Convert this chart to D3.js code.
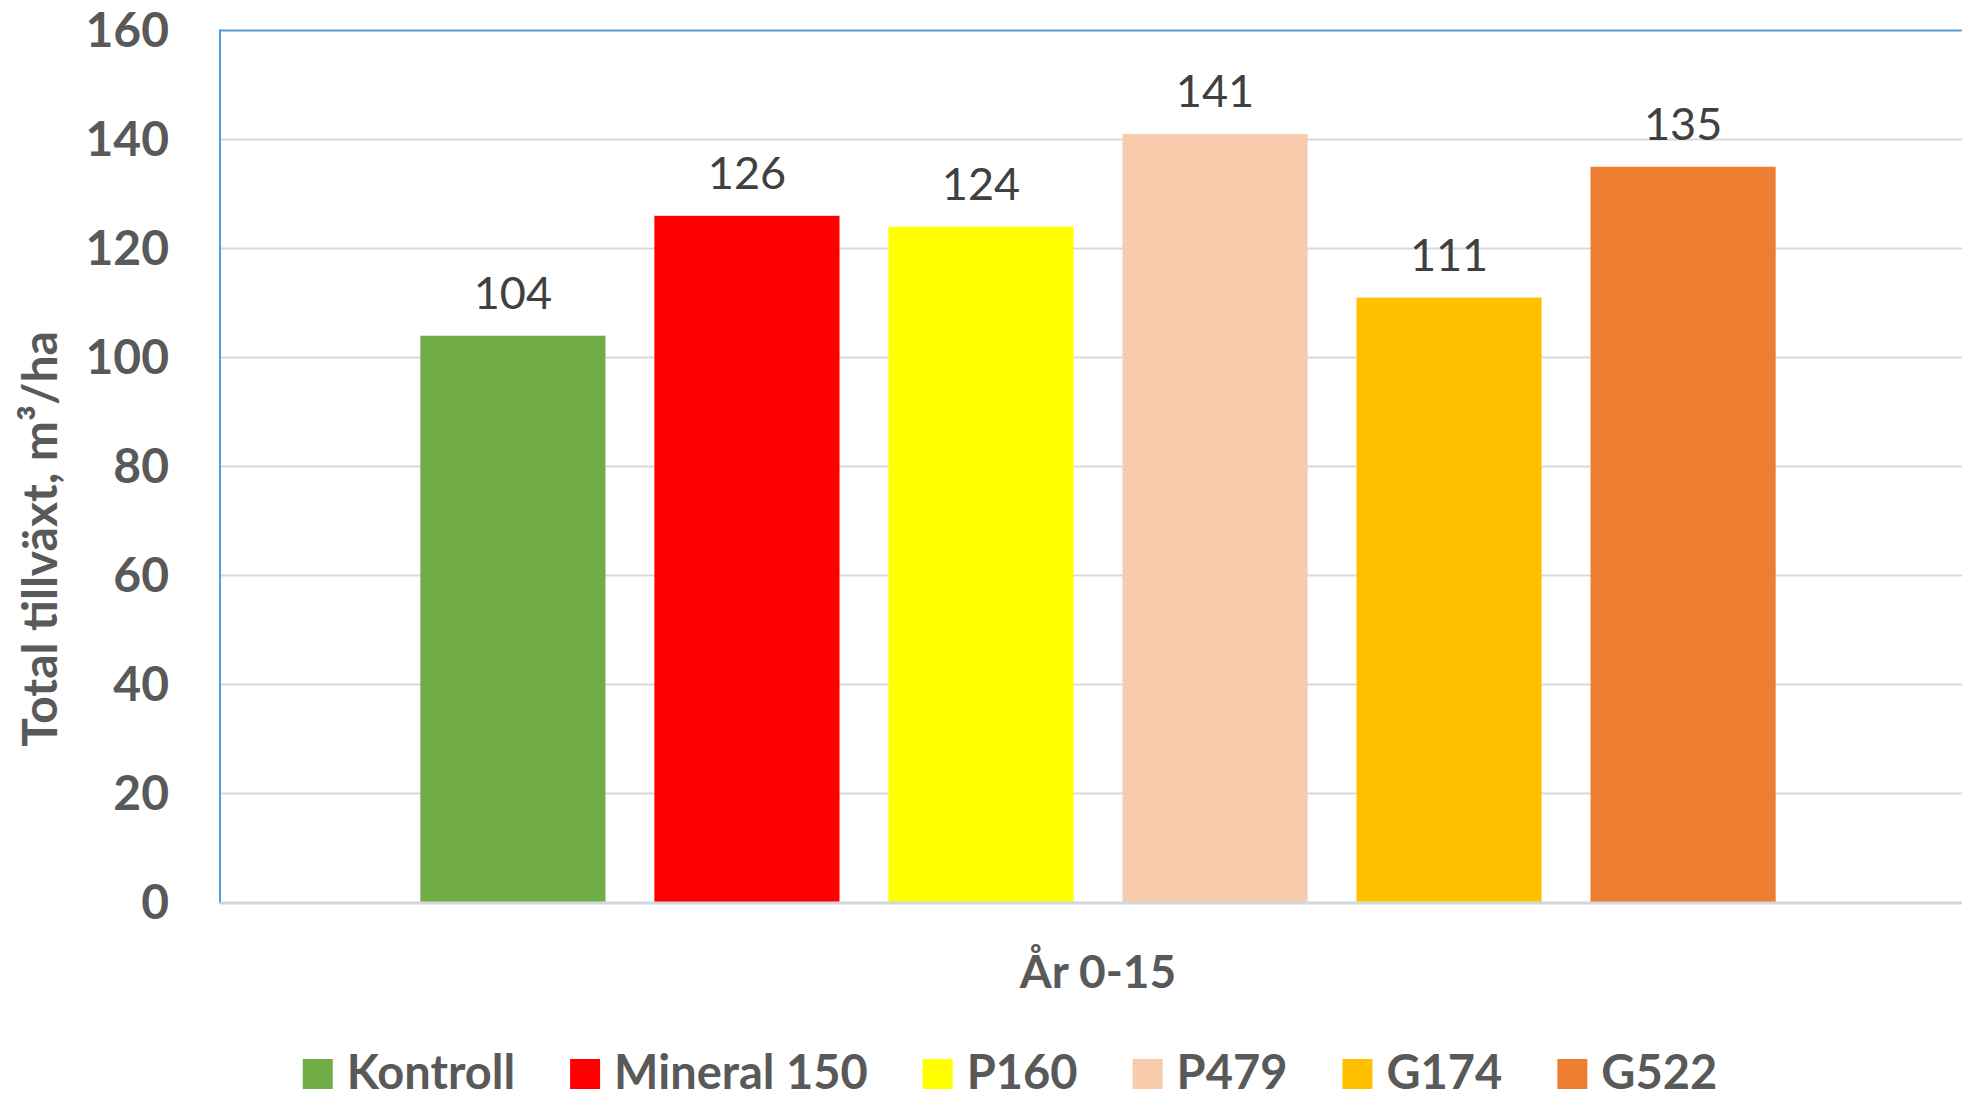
<!DOCTYPE html>
<html>
<head>
<meta charset="utf-8">
<script src="https://cdn.jsdelivr.net/npm/d3@7"></script>
<style>
  html, body { margin: 0; padding: 0; background: #fff; }
  svg { display: block; }
  text { font-family: Lato, "Open Sans", sans-serif; }
</style>
</head>
<body>
<script>
var width = 1962, height = 1099;

/** data **/
var categories = ["År 0-15"];
var series = ["Kontroll", "Mineral 150", "P160", "P479", "G174", "G522"];
var values = [104, 126, 124, 141, 111, 135];
var colors = ["#70AD47", "#FF0000", "#FFFF00", "#F8CBAD", "#FFC000", "#ED7D31"];
var yTicks = [0, 20, 40, 60, 80, 100, 120, 140, 160];
var yTitle = "Total tillväxt, m³/ha";

var plot = { left: 220, right: 1976, top: 30.5, bottom: 902.5 };

var svg = d3.select("body").append("svg")
    .attr("width", width).attr("height", height);

var y = d3.scaleLinear().domain([0, 160]).range([plot.bottom, plot.top]);

// outer band for the single category, inner band for the series
var x0 = d3.scaleBand().domain(categories).range([plot.left, plot.right]);
var x1 = d3.scaleBand().domain(series)
    .range([0, x0.bandwidth()])
    .paddingInner(0.209)
    .paddingOuter(0.856);

// gridlines
svg.append("g").selectAll("line")
    .data(yTicks.filter(d => d > 0 && d < 160))
    .enter().append("line")
    .attr("x1", plot.left).attr("x2", width)
    .attr("y1", d => y(d)).attr("y2", d => y(d))
    .attr("stroke", "#D9D9D9").attr("stroke-width", 2);

// y tick labels
svg.append("g").selectAll("text")
    .data(yTicks)
    .enter().append("text")
    .attr("x", 169).attr("y", d => y(d))
    .attr("dy", "0.35em")
    .attr("text-anchor", "end")
    .attr("font-size", 48).attr("font-weight", "bold")
    .attr("fill", "#595959")
    .text(d => d);

// bars
var g = svg.append("g").attr("transform", "translate(" + x0(categories[0]) + ",0)");
var rows = series.map((s, i) => ({ name: s, value: values[i], color: colors[i] }));

g.selectAll("rect")
    .data(rows)
    .enter().append("rect")
    .attr("x", d => x1(d.name))
    .attr("y", d => y(d.value))
    .attr("width", x1.bandwidth())
    .attr("height", d => y(0) - y(d.value))
    .attr("fill", d => d.color);

// data labels
g.selectAll("text")
    .data(rows)
    .enter().append("text")
    .attr("x", d => x1(d.name) + x1.bandwidth() / 2)
    .attr("y", d => y(d.value) - 27)
    .attr("text-anchor", "middle")
    .attr("font-size", 45)
    .attr("fill", "#404040")
    .text(d => d.value);

// frame: top + left in blue, bottom axis grey
svg.append("line")
    .attr("x1", plot.left).attr("x2", width)
    .attr("y1", plot.top).attr("y2", plot.top)
    .attr("stroke", "#5B9BD5").attr("stroke-width", 2);
svg.append("line")
    .attr("x1", plot.left).attr("x2", plot.left)
    .attr("y1", plot.top - 1).attr("y2", plot.bottom + 1)
    .attr("stroke", "#5B9BD5").attr("stroke-width", 2);
svg.append("line")
    .attr("x1", plot.left).attr("x2", width)
    .attr("y1", plot.bottom + 0.5).attr("y2", plot.bottom + 0.5)
    .attr("stroke", "#D0D7DF").attr("stroke-width", 3);

// x category label
svg.append("text")
    .attr("x", 1098).attr("y", 988)
    .attr("text-anchor", "middle")
    .attr("font-size", 46).attr("font-weight", "bold")
    .attr("fill", "#595959")
    .text(categories[0]);

// y axis title
svg.append("text")
    .attr("transform", "translate(57,539) rotate(-90)")
    .attr("text-anchor", "middle")
    .attr("font-size", 48).attr("font-weight", "bold")
    .attr("fill", "#595959")
    .text(yTitle);

// legend
var legend = svg.append("g");
var items = legend.selectAll("g")
    .data(rows)
    .enter().append("g");
items.append("rect")
    .attr("width", 30).attr("height", 30)
    .attr("y", 1059)
    .attr("fill", d => d.color);
items.append("text")
    .attr("x", 44).attr("y", 1089)
    .attr("font-size", 47).attr("font-weight", "bold")
    .attr("fill", "#595959")
    .text(d => d.name);

var pos = 0;
items.each(function () {
    var w = d3.select(this).select("text").node().getComputedTextLength();
    d3.select(this).attr("transform", "translate(" + pos + ",0)");
    pos += 44 + w + 55;
});
var total = pos - 55;
legend.attr("transform", "translate(" + (1010 - total / 2) + ",0)");
</script>
</body>
</html>
